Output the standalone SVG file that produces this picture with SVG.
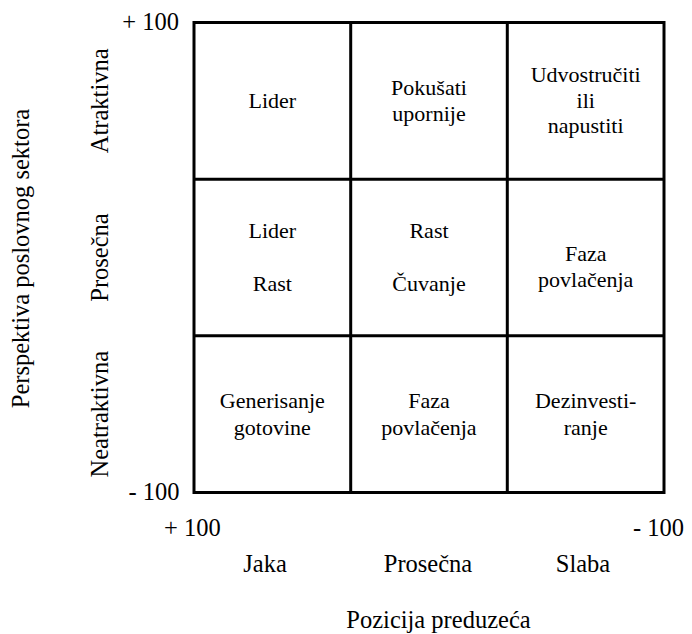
<svg xmlns="http://www.w3.org/2000/svg" width="692" height="634" viewBox="0 0 692 634" font-family="'Liberation Serif', 'Times New Roman', Times, 'DejaVu Serif', serif">
  <style>
    text { font-family: "Liberation Serif", "Times New Roman", Times, "DejaVu Serif", serif; fill: #000; }
    .cell { font-size: 22px; text-anchor: middle; }
    .axis { font-size: 24.5px; }
    .mid { text-anchor: middle; }
    .end { text-anchor: end; }
    .grid { fill: none; stroke: #000; stroke-width: 3; }
  </style>
  <rect width="692" height="634" fill="#fff"/>

  <!-- 3x3 portfolio grid -->
  <g id="grid">
    <rect class="grid" x="194" y="22.5" width="470" height="470"/>
    <line class="grid" x1="350.7" y1="22.5" x2="350.7" y2="492.5"/>
    <line class="grid" x1="507.3" y1="22.5" x2="507.3" y2="492.5"/>
    <line class="grid" x1="194" y1="179.2" x2="664" y2="179.2"/>
    <line class="grid" x1="194" y1="335.8" x2="664" y2="335.8"/>
  </g>

  <!-- row 1: Atraktivna -->
  <g id="cell-1-1"><text class="cell" x="272.3" y="108.3">Lider</text></g>
  <g id="cell-1-2">
    <text class="cell" x="429" y="95">Pokušati</text>
    <text class="cell" x="429" y="120.5">upornije</text>
  </g>
  <g id="cell-1-3">
    <text class="cell" x="585.7" y="81.7">Udvostručiti</text>
    <text class="cell" x="585.7" y="108.3">ili</text>
    <text class="cell" x="585.7" y="133">napustiti</text>
  </g>

  <!-- row 2: Prosečna -->
  <g id="cell-2-1">
    <text class="cell" x="272.3" y="238">Lider</text>
    <text class="cell" x="272.3" y="290.7">Rast</text>
  </g>
  <g id="cell-2-2">
    <text class="cell" x="429" y="238">Rast</text>
    <text class="cell" x="429" y="290.7">Čuvanje</text>
  </g>
  <g id="cell-2-3">
    <text class="cell" x="585.7" y="260.7">Faza</text>
    <text class="cell" x="585.7" y="286.7">povlačenja</text>
  </g>

  <!-- row 3: Neatraktivna -->
  <g id="cell-3-1">
    <text class="cell" x="272.3" y="408.3">Generisanje</text>
    <text class="cell" x="272.3" y="435">gotovine</text>
  </g>
  <g id="cell-3-2">
    <text class="cell" x="429" y="408.3">Faza</text>
    <text class="cell" x="429" y="435">povlačenja</text>
  </g>
  <g id="cell-3-3">
    <text class="cell" x="585.7" y="408.3">Dezinvesti-</text>
    <text class="cell" x="585.7" y="435">ranje</text>
  </g>

  <!-- vertical axis: scale ends, row labels and title -->
  <g id="y-axis">
    <text class="axis end" x="179" y="30">+ 100</text>
    <text class="axis end" x="179.5" y="500">- 100</text>
    <text class="axis mid" transform="translate(108 100.8) rotate(-90)">Atraktivna</text>
    <text class="axis mid" transform="translate(108 257.5) rotate(-90)">Prosečna</text>
    <text class="axis mid" transform="translate(108 414.2) rotate(-90)">Neatraktivna</text>
    <text class="axis mid" transform="translate(29 258.5) rotate(-90)">Perspektiva poslovnog sektora</text>
  </g>

  <!-- horizontal axis: scale ends, column labels and title -->
  <g id="x-axis">
    <text class="axis" x="164" y="536">+ 100</text>
    <text class="axis end" x="684" y="536">- 100</text>
    <text class="axis mid" x="265" y="571.5">Jaka</text>
    <text class="axis mid" x="428" y="571.5">Prosečna</text>
    <text class="axis mid" x="583" y="571.5">Slaba</text>
    <text class="axis mid" x="438.5" y="628">Pozicija preduzeća</text>
  </g>
</svg>
